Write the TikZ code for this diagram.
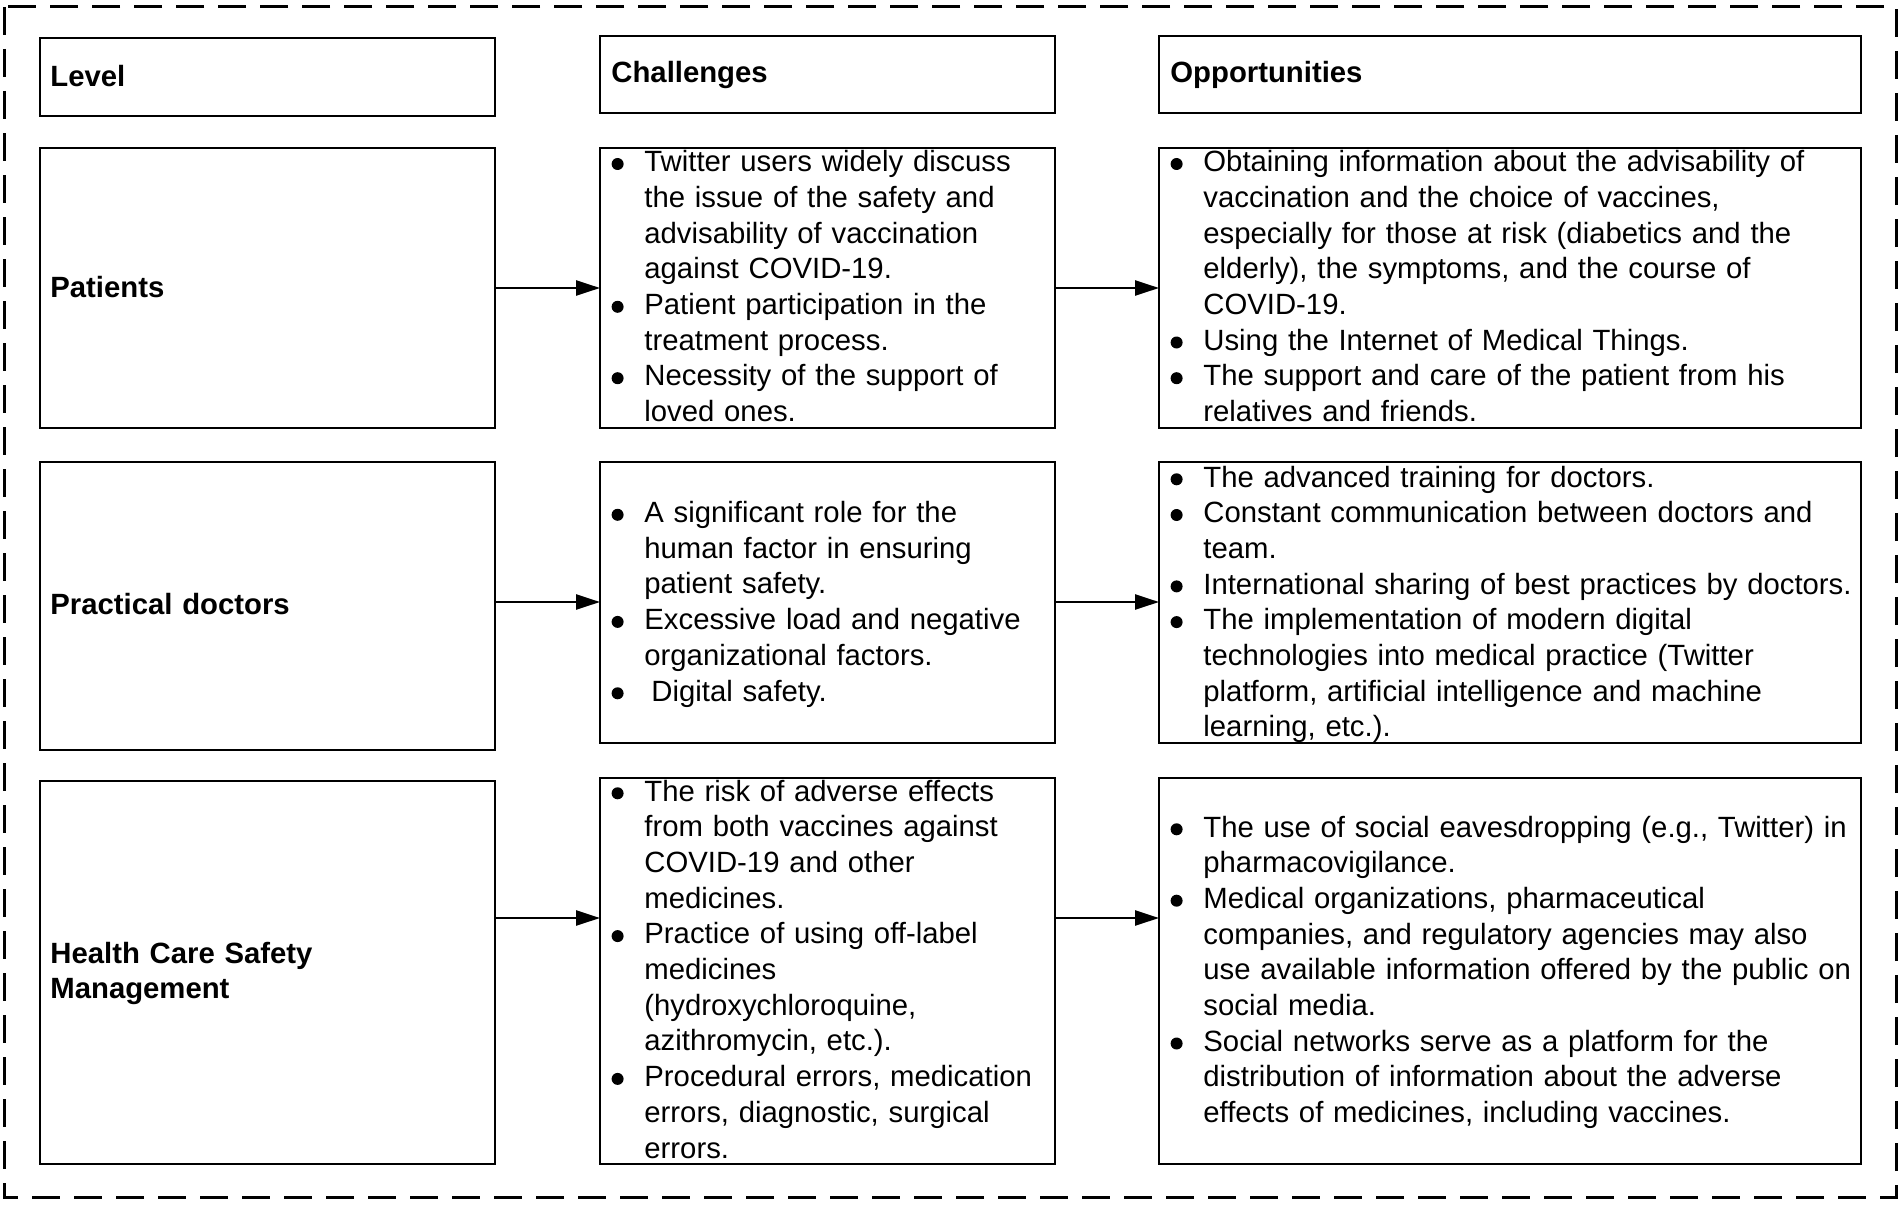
\documentclass[tikz,border=0pt]{standalone}
\usepackage{fontspec}
\setmainfont{Liberation Sans}
\usetikzlibrary{arrows.meta}
\newcommand\bu{\makebox[15.5pt][l]{\hspace*{-0.9pt}\tikz[baseline=-3.85pt]\fill (0pt,0pt) circle[radius=3pt];}}
\newcommand\ind{\hspace*{15.5pt}}
\begin{document}
\begin{tikzpicture}[x=0.5pt,y=-0.5pt,
  box/.style={draw, line width=1pt, inner sep=0pt, outer sep=0pt},
  txt/.style={anchor=base west, inner sep=0pt, align=left, text width=#1,
    font=\fontsize{14.65pt}{17.85pt}\selectfont},
  hd/.style={anchor=base west, inner sep=0pt, align=left, text width=200pt,
    font=\bfseries\fontsize{14.65pt}{17.85pt}\selectfont},
  arr/.style={-{Triangle[length=12pt,width=7.5pt]}, line width=1.2pt}]
\useasboundingbox (0,0) rectangle (1904,1204);
\draw[line width=1.5pt, dash pattern=on 14pt off 7pt] (4,7) rectangle (1896,1197);

% header row
\node[box, minimum width=227.5pt, minimum height=39pt] (hl) at (267.5,77) {};
\node[box, minimum width=227.5pt, minimum height=38.5pt] (hc) at (827.5,74.5) {};
\node[box, minimum width=351pt, minimum height=38.5pt] (ho) at (1510,74.5) {};
\node[hd] (thl) at (50,87) {Level};
\node[hd] (thc) at (611,83) {Challenges};
\node[hd] (tho) at (1170,83) {Opportunities};

% row 1
\node[box, minimum width=227.5pt, minimum height=140pt] (l1) at (267.5,288) {};
\node[box, minimum width=227.5pt, minimum height=140pt] (c1) at (827.5,288) {};
\node[box, minimum width=351pt, minimum height=140pt] (o1) at (1510,288) {};
\node[hd] (tl1) at (50,297) {Patients};
\node[txt=215pt] (tc1) at (613,171.7) {\bu Twitter users widely discuss\\
\ind the issue of the safety and\\
\ind advisability of vaccination\\
\ind against COVID-19.\\
\bu Patient participation in the\\
\ind treatment process.\\
\bu Necessity of the support of\\
\ind loved ones.};
\node[txt=340pt] (to1) at (1172,171.7) {\bu Obtaining information about the advisability of\\
\ind vaccination and the choice of vaccines,\\
\ind especially for those at risk (diabetics and the\\
\ind elderly), the symptoms, and the course of\\
\ind COVID-19.\\
\bu Using the Internet of Medical Things.\\
\bu The support and care of the patient from his\\
\ind relatives and friends.};

% row 2
\node[box, minimum width=227.5pt, minimum height=144pt] (l2) at (267.5,606) {};
\node[box, minimum width=227.5pt, minimum height=140.5pt] (c2) at (827.5,602.5) {};
\node[box, minimum width=351pt, minimum height=140.5pt] (o2) at (1510,602.5) {};
\node[hd] (tl2) at (50,614) {Practical doctors};
\node[txt=215pt] (tc2) at (613,522.5) {\bu A significant role for the\\
\ind human factor in ensuring\\
\ind patient safety.\\
\bu Excessive load and negative\\
\ind organizational factors.\\
\bu \hspace*{3.5pt}Digital safety.};
\node[txt=340pt] (to2) at (1172,487) {\bu The advanced training for doctors.\\
\bu Constant communication between doctors and\\
\ind team.\\
\bu International sharing of best practices by doctors.\\
\bu The implementation of modern digital\\
\ind technologies into medical practice (Twitter\\
\ind platform, artificial intelligence and machine\\
\ind learning, etc.).};

% row 3
\node[box, minimum width=227.5pt, minimum height=191.5pt] (l3) at (267.5,972.5) {};
\node[box, minimum width=227.5pt, minimum height=193pt] (c3) at (827.5,971) {};
\node[box, minimum width=351pt, minimum height=193pt] (o3) at (1510,971) {};
\node[hd] (tl3) at (50,963) {Health Care Safety\\Management};
\node[txt=215pt] (tc3) at (613,801) {\bu The risk of adverse effects\\
\ind from both vaccines against\\
\ind COVID-19 and other\\
\ind medicines.\\
\bu Practice of using off-label\\
\ind medicines\\
\ind (hydroxychloroquine,\\
\ind azithromycin, etc.).\\
\bu Procedural errors, medication\\
\ind errors, diagnostic, surgical\\
\ind errors.};
\node[txt=340pt] (to3) at (1172,837) {\bu The use of social eavesdropping (e.g., Twitter) in\\
\ind pharmacovigilance.\\
\bu Medical organizations, pharmaceutical\\
\ind companies, and regulatory agencies may also\\
\ind use available information offered by the public on\\
\ind social media.\\
\bu Social networks serve as a platform for the\\
\ind distribution of information about the adverse\\
\ind effects of medicines, including vaccines.};

% arrows
\coordinate (a1) at (0,288);
\coordinate (a2) at (0,602);
\coordinate (a3) at (0,918);
\draw[arr] (l1.east |- a1) -- (c1.west |- a1);
\draw[arr] (c1.east |- a1) -- (o1.west |- a1);
\draw[arr] (l2.east |- a2) -- (c2.west |- a2);
\draw[arr] (c2.east |- a2) -- (o2.west |- a2);
\draw[arr] (l3.east |- a3) -- (c3.west |- a3);
\draw[arr] (c3.east |- a3) -- (o3.west |- a3);
\end{tikzpicture}
\end{document}
